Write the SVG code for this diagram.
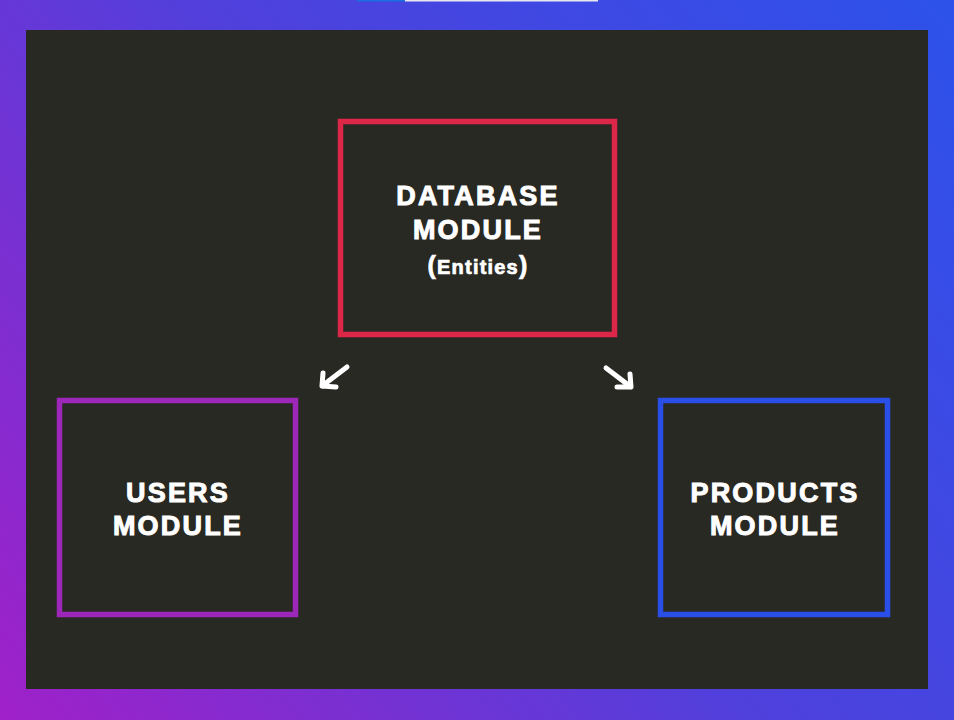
<svg xmlns="http://www.w3.org/2000/svg" width="954" height="720" viewBox="0 0 954 720">
<defs>
<linearGradient id="bg" x1="0" y1="720" x2="954" y2="0" gradientUnits="userSpaceOnUse">
<stop offset="0" stop-color="#a020c8"/>
<stop offset="0.5" stop-color="#5040dc"/>
<stop offset="1" stop-color="#2c52ea"/>
</linearGradient>
<style>
.box{fill:none;stroke-width:5.5}
.t{font-family:"Liberation Sans",Arial,sans-serif;font-weight:bold;fill:#fff;stroke:#fff;stroke-width:1;text-anchor:middle;font-size:27px;letter-spacing:2.2px}
.arrow{fill:none;stroke:#fff;stroke-width:5;stroke-linecap:round;stroke-linejoin:round}
</style>
</defs>
<rect width="954" height="720" fill="url(#bg)"/>
<rect x="357" y="0" width="48" height="1.5" fill="#1a6ee0"/>
<rect x="405" y="0" width="193" height="1.5" fill="#e8e8f0"/>
<rect x="26" y="30" width="902" height="659" fill="#292923"/>
<g id="database">
<rect class="box" x="340.5" y="121.5" width="274" height="213" stroke="#dc2748"/>
<text class="t" x="478" y="205">DATABASE</text>
<text class="t" x="478" y="239">MODULE</text>
<text class="t" x="478" y="274" style="font-size:20px;letter-spacing:1.2px;stroke-width:0.7"><tspan style="font-size:25px">(</tspan>Entities<tspan style="font-size:25px">)</tspan></text>
</g>
<g id="users">
<rect class="box" x="59.5" y="400.5" width="236" height="214" stroke="#9c27b8"/>
<text class="t" x="178" y="502">USERS</text>
<text class="t" x="178" y="535">MODULE</text>
</g>
<g id="products">
<rect class="box" x="660.5" y="400.5" width="227" height="214" stroke="#2a4ee8"/>
<text class="t" x="775" y="502">PRODUCTS</text>
<text class="t" x="775" y="535">MODULE</text>
</g>
<g id="connectors">
<path class="arrow" d="M347,367 L322,386 M323,373 L322,386 L336,387"/>
<path class="arrow" d="M606,368 L631,387 M630,374 L631,387 L617,387"/>
</g>
</svg>
